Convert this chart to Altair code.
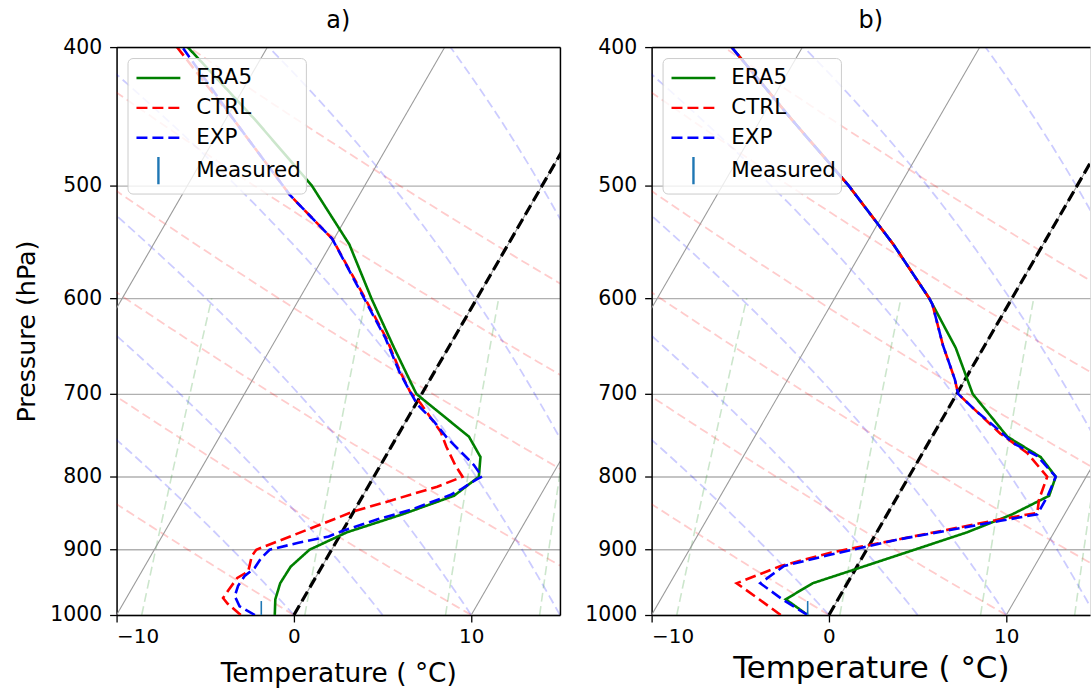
import altair as alt
import numpy as np
import pandas as pd

FONT = "DejaVu Sans"
SKEW = 20.2  # degC of horizontal shift per unit of ln(1000/p) (skew-T rotation)

# ---------------- data ----------------
SERIES = ["ERA5", "CTRL", "EXP", "Measured"]
SERIES_COLORS = ["#008000", "#ff0000", "#0000ff", "#1f77b4"]
SERIES_DASHES = [[1, 0], [11, 5], [11, 5], [1, 0]]
SERIES_SHAPES = ["M-1.54,0L1.54,0", "M-1.54,0L1.54,0", "M-1.54,0L1.54,0", "M0,-0.95L0,0.95"]

P_TICKS = [400, 500, 600, 700, 800, 900, 1000]
T_TICKS = [-10, 0, 10]

# panel a)
a_era5_p = [1000, 975, 950, 925, 900, 875, 850, 825, 800, 775, 750, 700, 650, 600, 550, 500, 450, 400]
a_era5_t = [-1.08, -1.56, -1.81, -1.76, -1.25, 0.3, 2.84, 5.14, 5.92, 5.37, 4.06, -0.3, -3.05, -5.95,
            -8.95, -13.0, -18.3, -24.5]
a_ctrl_p = [1000, 982, 973, 960, 942, 932, 909, 900, 880, 861, 846, 830, 813, 800, 785, 762, 744, 710,
            698, 676, 640, 594, 545, 508, 452, 400]
a_ctrl_t = [-3.0, -4.1, -4.55, -4.5, -4.4, -4.0, -4.3, -4.25, -2.7, -1.2, 0.0, 1.9, 3.9, 5.0, 4.2, 3.1,
            2.3, 0.2, -0.7, -1.9, -3.8, -6.7, -10.1, -13.9, -19.3, -25.1]
a_exp_p = [1000, 986, 970, 954, 939, 927, 912, 900, 890, 881, 874, 857, 844, 824, 817, 804, 800, 785,
           752, 732, 712, 698, 676, 640, 594, 545, 508, 452, 400]
a_exp_t = [-2.2, -3.35, -3.95, -4.1, -4.05, -3.75, -3.7, -3.5, -2.1, -0.6, -0.07, 1.6, 3.16, 4.9, 5.3,
           5.85, 6.1, 5.26, 2.9, 1.6, 0.1, -0.7, -1.95, -3.85, -6.75, -10.1, -13.9, -19.3, -24.8]
a_measured_p = [1000]
a_measured_t = [-1.84]

# panel b)
b_era5_p = [1000, 975, 950, 925, 900, 875, 850, 825, 800, 775, 750, 700, 650, 600, 550, 500, 450, 400]
b_era5_t = [-1.2, -2.95, -1.95, 0.35, 2.7, 5.1, 7.06, 8.53, 8.28, 6.79, 4.25, 0.9, -1.55, -4.66,
            -8.44, -12.9, -18.2, -24.0]
b_ctrl_p = [1000, 975, 950, 924, 904, 885, 857, 848, 830, 800, 770, 746, 720, 700, 684, 647, 606, 600,
            550, 500, 450, 400]
b_ctrl_t = [-2.72, -4.45, -6.24, -4.32, -1.9, 1.47, 6.54, 8.42, 8.08, 7.8, 5.9, 3.73, 1.69, 0.08, -0.57,
            -2.37, -4.28, -4.66, -8.44, -12.9, -18.2, -24.0]
b_exp_p = [1000, 977, 950, 924, 907, 885, 859, 850, 825, 800, 774, 758, 740, 720, 700, 684, 647, 606,
           600, 550, 500, 450, 400]
b_exp_t = [-1.2, -3.0, -4.91, -4.13, -1.85, 1.5, 6.6, 8.47, 8.45, 8.28, 6.58, 4.81, 3.38, 1.69, 0.08,
           -0.57, -2.37, -4.28, -4.66, -8.44, -12.9, -18.2, -24.0]
b_measured_p = [1000]
b_measured_t = [-1.2]

# ---------------- skew-T reference line families ----------------
DRY_T0 = [-40, -30, -20, -10, 0, 10, 20, 30, 40, 50]
MOIST_T0 = [-40, -30, -20, -10, 0, 5, 10, 15, 20, 25, 30, 35, 40, 45, 50]
MIX_W = [0.0004, 0.001, 0.002, 0.004, 0.007, 0.01, 0.016, 0.024, 0.032]
ISO_T = [-40, -30, -20, -10, 0, 10, 20]

RD, CPD, LV, EPS = 287.04749, 1004.6662, 2.50084e6, 0.6219569
p_full = np.linspace(1000.0, 400.0, 121)
p_mix = np.linspace(1000.0, 600.0, 41)


def sat_vp(tk):
    return 6.112 * np.exp(17.67 * (tk - 273.15) / (tk - 29.65))


def moist_dtdp(p, tk):
    es = sat_vp(tk)
    rs = EPS * es / (p - es)
    return (RD * tk + LV * rs) / (CPD + (LV * LV * rs * EPS) / (RD * tk * tk)) / p


def moist_curve(t0):
    tk = t0 + 273.15
    out = [tk]
    for i in range(len(p_full) - 1):
        p = p_full[i]
        h = p_full[i + 1] - p
        k1 = moist_dtdp(p, tk)
        k2 = moist_dtdp(p + h / 2, tk + h / 2 * k1)
        k3 = moist_dtdp(p + h / 2, tk + h / 2 * k2)
        k4 = moist_dtdp(p + h, tk + h * k3)
        tk = tk + h / 6 * (k1 + 2 * k2 + 2 * k3 + k4)
        out.append(tk)
    return np.array(out) - 273.15


def family(curves):
    rows = []
    for name, ps, ts in curves:
        for i, (p, t) in enumerate(zip(ps, ts)):
            rows.append({"line": name, "idx": i, "p": float(p), "T": float(t)})
    return pd.DataFrame(rows)


dry_df = family([(f"d{t0}", p_full, (t0 + 273.15) * (p_full / 1000.0) ** (RD / CPD) - 273.15)
                 for t0 in DRY_T0])
moist_df = family([(f"m{t0}", p_full, moist_curve(t0)) for t0 in MOIST_T0])
mix_rows = []
for w in MIX_W:
    e = p_mix * w / (EPS + w)
    lg = np.log(e / 6.112)
    mix_rows.append((f"w{w}", p_mix, 243.5 * lg / (17.67 - lg)))
mix_df = family(mix_rows)
iso_df = family([(f"i{t}", [1000.0, 400.0], [t, t]) for t in ISO_T])


def series_frame(era_p, era_t, ctrl_p, ctrl_t, exp_p, exp_t):
    return family([("ERA5", era_p, era_t), ("CTRL", ctrl_p, ctrl_t), ("EXP", exp_p, exp_t)]).rename(
        columns={"line": "series"})


CALC = f"datum.T + {SKEW} * log(1000 / datum.p)"


def make_panel(lines_df, meas_p, meas_t, title, xmax, xtitle_size, xtitle_pad, ytitle, right_spine):
    xs = alt.Scale(domain=[-10, xmax], nice=False, zero=False)
    ys = alt.Scale(type="log", domain=[400, 1000], reverse=True, nice=False)

    def bg(df, color, width, opacity):
        return alt.Chart(df).transform_calculate(x=CALC).mark_line(
            clip=True, color=color, strokeDash=[9, 4.5], strokeWidth=width, opacity=opacity
        ).encode(
            x=alt.X("x:Q", scale=xs, axis=None),
            y=alt.Y("p:Q", scale=ys, axis=None),
            detail="line:N",
            order="idx:Q",
        )

    dry = bg(dry_df, "#ff0000", 1.8, 0.2)
    moist = bg(moist_df, "#0000ff", 1.8, 0.2)
    mix = bg(mix_df, "#008000", 1.6, 0.2)

    spine = dict(labels=False, ticks=False, grid=False, title=None, domainColor="black",
                 domainWidth=1.5, zindex=1)
    iso = alt.Chart(iso_df).transform_calculate(x=CALC).mark_line(
        clip=True, color="#9a9a9a", strokeWidth=1.1
    ).encode(
        x=alt.X("x:Q", scale=xs, axis=alt.Axis(orient="top", **spine)),
        y=alt.Y("p:Q", scale=ys, axis=alt.Axis(orient="right", **dict(spine, domain=right_spine))),
        detail="line:N",
        order="idx:Q",
    )

    zero = alt.Chart(iso_df).transform_filter("datum.T == 0").transform_calculate(x=CALC).mark_line(
        clip=True, color="black", strokeDash=[11, 5], strokeWidth=3.2
    ).encode(
        x=alt.X("x:Q", scale=xs, axis=None),
        y=alt.Y("p:Q", scale=ys, axis=None),
        order="idx:Q",
    )

    leg = alt.Legend(title=None, orient="top-left", offset=11, padding=4,
                     fillColor="rgba(255,255,255,0.8)", strokeColor="#cccccc", cornerRadius=5,
                     labelFontSize=21.5, labelFont=FONT, labelColor="black", symbolSize=818,
                     symbolStrokeWidth=2.4, symbolOffset=11, labelOffset=22, rowPadding=3,
                     labelLimit=400, zindex=1)
    cscale = alt.Scale(domain=SERIES, range=SERIES_COLORS)

    xaxis = alt.Axis(orient="bottom", values=T_TICKS, format="d", grid=False,
                     title="Temperature ( °C)", titleFontSize=xtitle_size, titleFont=FONT,
                     titleFontWeight="normal", titleColor="black", titlePadding=xtitle_pad,
                     labelFontSize=20, labelFont=FONT, labelColor="black", labelPadding=5,
                     tickSize=7, tickColor="black", tickWidth=1.3,
                     domainColor="black", domainWidth=1.5)
    yaxis = alt.Axis(orient="left", values=P_TICKS, format="d", grid=True, gridColor="#b0b0b0",
                     gridWidth=1.3, title=ytitle, titleFontSize=25.5, titleFont=FONT,
                     titleFontWeight="normal", titleColor="black", titlePadding=8,
                     labelFontSize=20.5, labelFont=FONT, labelColor="black", labelPadding=8,
                     tickSize=7, tickColor="black", tickWidth=1.3, labelOverlap=False,
                     domainColor="black", domainWidth=1.5, minExtent=69, maxExtent=69)

    lines = alt.Chart(lines_df).transform_calculate(x=CALC).mark_line(
        clip=True, strokeWidth=2.6
    ).encode(
        x=alt.X("x:Q", scale=xs, axis=xaxis),
        y=alt.Y("p:Q", scale=ys, axis=yaxis),
        color=alt.Color("series:N", scale=cscale, legend=leg),
        strokeDash=alt.StrokeDash("series:N", scale=alt.Scale(domain=SERIES, range=SERIES_DASHES),
                                  legend=leg),
        order="idx:Q",
    )

    meas_df = pd.DataFrame({"series": ["Measured"] * len(meas_p), "p": meas_p, "T": meas_t})
    meas = alt.Chart(meas_df).transform_calculate(x=CALC).mark_point(
        clip=True, filled=False, size=870, strokeWidth=1.6, opacity=1
    ).encode(
        x=alt.X("x:Q", scale=xs, axis=None),
        y=alt.Y("p:Q", scale=ys, axis=None),
        color=alt.Color("series:N", scale=cscale, legend=leg),
        shape=alt.Shape("series:N", scale=alt.Scale(domain=SERIES, range=SERIES_SHAPES), legend=leg),
    )

    width = round((xmax + 10) * 17.8)
    return alt.layer(dry, moist, mix, iso, zero, lines, meas).properties(
        width=width, height=570,
        title=alt.TitleParams(text=title, fontSize=24, font=FONT, fontWeight="normal",
                              color="black", offset=4),
    )


panel_a = make_panel(series_frame(a_era5_p, a_era5_t, a_ctrl_p, a_ctrl_t, a_exp_p, a_exp_t),
                     a_measured_p, a_measured_t, "a)", 15, 26.5, 14, "Pressure (hPa)", True)
panel_b = make_panel(series_frame(b_era5_p, b_era5_t, b_ctrl_p, b_ctrl_t, b_exp_p, b_exp_t),
                     b_measured_p, b_measured_t, "b)", 14.72, 31, 7, None, False)

chart = alt.hconcat(panel_a, panel_b, spacing=21).resolve_scale(
    color="independent", strokeDash="independent", shape="independent"
).configure_view(stroke=None).configure(font=FONT).properties(
    padding={"left": 14, "top": 7, "right": 0, "bottom": 0}
)

chart.save("out.html", embed_options={"renderer": "svg", "actions": False})
